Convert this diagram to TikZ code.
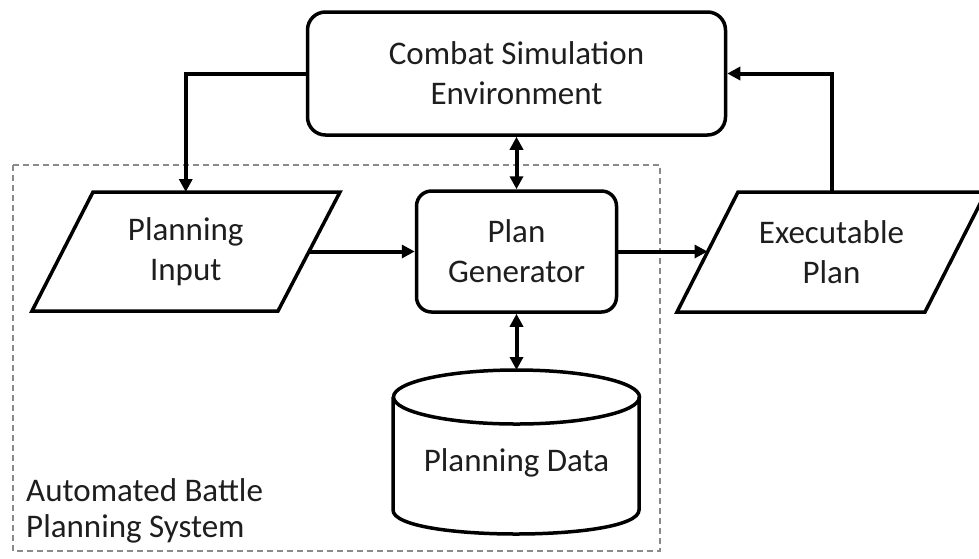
\documentclass[tikz,border=0pt]{standalone}
\usepackage{fontspec}
\setmainfont{Carlito}
\usetikzlibrary{arrows.meta,calc}
\definecolor{txt}{HTML}{1E1E1E}
\definecolor{dashgray}{HTML}{8A8A8A}
\begin{document}
\begin{tikzpicture}[x=1pt,y=-1pt,
  box/.style={draw=black, line width=3.5pt, rounded corners=18pt, align=center, text=txt, font=\fontsize{33}{40}\selectfont, inner sep=0pt},
  lbl/.style={align=center, text=txt, font=\fontsize{33}{40}\selectfont, inner sep=0pt},
  arr/.style={line width=4pt, -{Triangle[length=13pt,width=13pt]}},
  darr/.style={line width=4pt, {Triangle[length=13pt,width=13pt]}-{Triangle[length=13pt,width=13pt]}},
  shp/.style={draw=black, line width=3.5pt, line join=miter},
  sys/.style={draw=dashgray, line width=2pt, dash pattern=on 6pt off 4pt}]
\useasboundingbox (0,0) rectangle (979,558);
\fill[white] (0,0) rectangle (979,558);

% system boundary
\draw[sys] (13,165) rectangle (660,551);
\node[lbl, align=left, anchor=north west, font=\fontsize{33}{36}\selectfont] (sysl) at (26,478) {Automated Battle\\Planning System};

% main boxes
\node[box, minimum width=418pt, minimum height=123pt] (cse) at (516.5,73.5) {Combat Simulation\\Environment};
\node[box, rounded corners=15pt, minimum width=200pt, minimum height=121pt] (pg) at (516.5,251.5) {Plan\\Generator};

% planning input (parallelogram)
\draw[shp] (93,192) -- (340,192) -- (278,311) -- (32,311) -- cycle;
\node[lbl] (pi) at (185.75,251.5) {Planning\\Input};
\coordinate (pitop) at (185.75,192);
\coordinate (piright) at (309.5,251.5);

% executable plan (parallelogram)
\draw[shp] (738,192) -- (986,192) -- (925,312) -- (677,312) -- cycle;
\node[lbl] (ep) at (831.5,252) {Executable\\Plan};
\coordinate (eptop) at (832,192);
\coordinate (epleft) at (707.5,251.5);

% planning data (cylinder)
\draw[shp, fill=white] (393,397) -- (393,510) .. controls (393,542) and (639,542) .. (639,510) -- (639,397);
\draw[shp] (516.5,397) ellipse [x radius=123pt, y radius=27pt];
\node[lbl] (pd) at (516.5,463) {Planning Data};
\coordinate (pdtop) at (516.5,370);

% connectors
\draw[arr] (cse.west) -| (pitop);
\draw[arr] (eptop) |- (cse.east);
\draw[darr] (cse.south) -- (pg.north);
\draw[darr] (pg.south) -- (pdtop);
\draw[arr] (piright) -- (pg.west);
\draw[arr] (pg.east) -- (epleft);
\end{tikzpicture}
\end{document}
